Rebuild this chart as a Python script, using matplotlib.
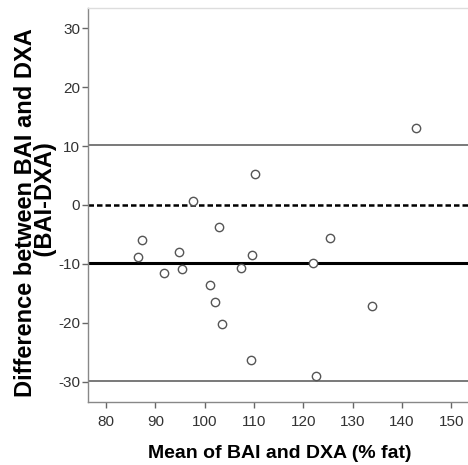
import matplotlib
matplotlib.use("Agg")
import matplotlib.pyplot as plt

plt.rcParams["axes.unicode_minus"] = False

# Data
mean_vals = [142.8, 110.2, 97.6, 103.0, 125.5, 87.4, 86.4, 94.9, 109.7, 91.7,
             95.4, 107.3, 122.0, 101.0, 102.2, 103.5, 133.9, 109.5, 122.6]
diff_vals = [13.0, 5.2, 0.7, -3.7, -5.6, -6.0, -8.9, -7.9, -8.4, -11.5,
             -10.9, -10.6, -9.8, -13.6, -16.4, -20.2, -17.1, -26.3, -29.0]
mean_diff = -9.8
upper_loa = 10.1
lower_loa = -29.8
x_ticks = [80, 90, 100, 110, 120, 130, 140, 150]
y_ticks = [-30, -20, -10, 0, 10, 20, 30]

font = "Liberation Sans"

fig = plt.figure(figsize=(4.68, 4.65), dpi=100)
ax = fig.add_axes([87.7 / 468, 1 - 402 / 465, 1 - 87.7 / 468, (402 - 8) / 465])

ax.axhline(upper_loa, color="#555555", lw=1.1, zorder=1)
ax.axhline(0, color="black", lw=1.8, ls=(0, (2.2, 1.2)), zorder=1)
ax.axhline(mean_diff, color="black", lw=2.2, zorder=1)
ax.axhline(lower_loa, color="#555555", lw=1.1, zorder=1)

ax.plot(mean_vals, diff_vals, ls="none", marker="o", ms=6.0, mfc="white",
        mec="#555555", mew=1.0, zorder=3)

ax.set_xlim(76.3, 153.4)
ax.set_ylim(-33.4, 33.4)
ax.set_xticks(x_ticks)
ax.set_yticks(y_ticks)

for s in ["left", "bottom"]:
    ax.spines[s].set_color("#888888")
    ax.spines[s].set_linewidth(1.0)
ax.spines["top"].set_color("#dddddd")
ax.spines["top"].set_linewidth(1.0)
ax.spines["right"].set_visible(False)

ax.tick_params(axis="both", direction="out", length=4.5, width=1.0, color="#666666",
               labelcolor="#333333", labelsize=11)
ax.tick_params(axis="x", pad=4.5)
ax.tick_params(axis="y", pad=1)
for lab in ax.get_xticklabels() + ax.get_yticklabels():
    lab.set_fontfamily(font)

fig.text(279.5 / 468, 1 - 458 / 465, "Mean of BAI and DXA (% fat)",
         ha="center", va="baseline", fontsize=14, fontweight="bold",
         fontfamily=font, color="black")

fig.text(35.5 / 468, 1 - 213 / 465,
         "Difference between BAI and DXA\n    (BAI-DXA)", rotation=90,
         ha="center", va="center", multialignment="center", linespacing=0.88,
         fontsize=17, fontweight="bold", fontfamily=font, color="black")

fig.savefig("out.png", dpi=100)
